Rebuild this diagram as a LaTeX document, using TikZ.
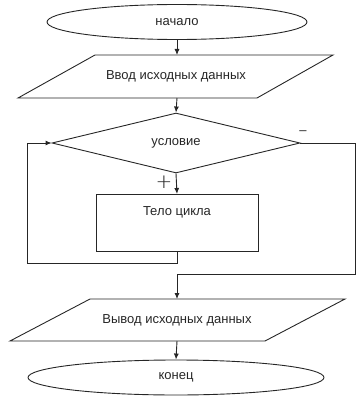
\documentclass[tikz,border=0pt]{standalone}
\usepackage{fontspec}
\setmainfont{Liberation Sans}
\usetikzlibrary{arrows.meta,shapes.geometric}
\begin{document}
\begin{tikzpicture}[x=1pt,y=-1pt,
  line width=0.9pt,
  every node/.style={font=\fontsize{13}{15}\selectfont, text=black!85},
  term/.style={draw=black!85, ellipse, inner sep=0pt},
  decis/.style={draw=black!85, diamond, inner sep=0pt, minimum width=248, minimum height=60},
  proc/.style={draw=black!85, rectangle, inner sep=0pt, minimum width=162, minimum height=57},
  conn/.style={draw=black!85, -{Latex[length=6pt,width=5pt]}},
  line/.style={draw=black!85}]
\useasboundingbox (0,0) rectangle (356,396);

% start
\node[term, minimum width=260, minimum height=35] (start) at (177,22) {начало};

% input parallelogram
\draw[line] (95,55) -- (333,55) -- (257,98) -- (18,98) -- cycle;
\node (in) at (176,76.5) {Ввод исходных данных};
\coordinate (inT) at (177,55);
\coordinate (inB) at (177,98);

% condition
\node[decis] (cond) at (176,143) {условие};

% body
\node[proc, anchor=north] (body) at (177,194) {};
\node (bodytext) at (177,212) {Тело цикла};

% output parallelogram
\draw[line] (90,299) -- (345,299) -- (265,341) -- (10,341) -- cycle;
\node (out) at (177,320) {Вывод исходных данных};
\coordinate (outT) at (177,299);
\coordinate (outB) at (177,341);

% end
\node[term, minimum width=296, minimum height=35] (end) at (176,377.5) {конец};

% connectors
\draw[conn] (start.south) -- (inT);
\draw[conn] (inB) -- (cond.north);
\draw[conn] (cond.south) -- (body.north);
\node[font=\fontsize{20}{20}\selectfont\fontspec{DejaVu Sans ExtraLight}] (plus) at (164,182) {+};
\node (minus) at (303,133) {–};

% loop back
\coordinate (lb) at (177,263);
\coordinate (ll) at (27,263);
\coordinate (lt) at (27,143);
\draw[conn] (body.south) -- (lb) -- (ll) -- (lt) -- (cond.west);

% exit
\coordinate (rt) at (355,143);
\coordinate (rb) at (355,274);
\coordinate (jn) at (177,274);
\draw[conn] (cond.east) -- (rt) -- (rb) -- (jn) -- (outT);

\draw[conn] (outB) -- (end.north);
\end{tikzpicture}
\end{document}
